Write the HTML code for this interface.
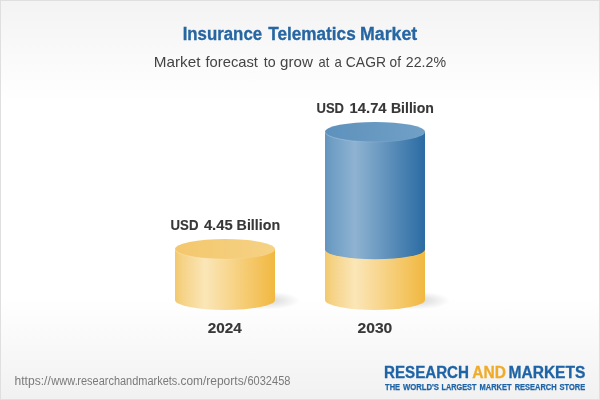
<!DOCTYPE html>
<html>
<head>
<meta charset="utf-8">
<title>Insurance Telematics Market</title>
<style>
  html, body { margin: 0; padding: 0; }
  body { width: 600px; height: 400px; overflow: hidden; background: #ffffff; font-family: "Liberation Sans", sans-serif; }
  svg { display: block; will-change: transform; }
  text { font-family: "Liberation Sans", sans-serif; }
</style>
</head>
<body>
<svg width="600" height="400" viewBox="0 0 600 400">
  <defs>
    <linearGradient id="bgTop" x1="0" y1="0" x2="0" y2="1">
      <stop offset="0" stop-color="#f3f3f3"/>
      <stop offset="1" stop-color="#ffffff"/>
    </linearGradient>
    <linearGradient id="bgBot" x1="0" y1="0" x2="0" y2="1">
      <stop offset="0" stop-color="#ffffff"/>
      <stop offset="1" stop-color="#f1f1f1"/>
    </linearGradient>
    <linearGradient id="yBody" x1="0" y1="0" x2="1" y2="0">
      <stop offset="0" stop-color="#f3c86c"/>
      <stop offset="0.06" stop-color="#f5d183"/>
      <stop offset="0.3" stop-color="#fbe6b8"/>
      <stop offset="1" stop-color="#f1b840"/>
    </linearGradient>
    <linearGradient id="yTop" x1="0" y1="0" x2="1" y2="0">
      <stop offset="0" stop-color="#f3c76c"/>
      <stop offset="1" stop-color="#f6d286"/>
    </linearGradient>
    <linearGradient id="bBody" x1="0" y1="0" x2="1" y2="0">
      <stop offset="0" stop-color="#6294bf"/>
      <stop offset="0.06" stop-color="#6e9dc4"/>
      <stop offset="0.3" stop-color="#8fb3d1"/>
      <stop offset="1" stop-color="#2a6ba3"/>
    </linearGradient>
    <linearGradient id="bTop" x1="0" y1="0" x2="1" y2="0">
      <stop offset="0" stop-color="#5d91bc"/>
      <stop offset="1" stop-color="#71a0c6"/>
    </linearGradient>
    <linearGradient id="rim" x1="0" y1="0" x2="1" y2="0">
      <stop offset="0" stop-color="#ffffff" stop-opacity="0.28"/>
      <stop offset="0.6" stop-color="#ffffff" stop-opacity="0.08"/>
      <stop offset="1" stop-color="#ffffff" stop-opacity="0"/>
    </linearGradient>
    <radialGradient id="shadow" cx="0.5" cy="0.5" r="0.5">
      <stop offset="0" stop-color="#000000" stop-opacity="0.16"/>
      <stop offset="1" stop-color="#000000" stop-opacity="0"/>
    </radialGradient>
  </defs>

  <!-- background -->
  <rect x="0" y="0" width="600" height="400" fill="#ffffff"/>
  <rect x="0" y="0" width="600" height="102" fill="url(#bgTop)"/>
  <rect x="0" y="298" width="600" height="102" fill="url(#bgBot)"/>
  <rect x="0.5" y="0.5" width="599" height="399" fill="none" stroke="#dfdfdf" stroke-width="1"/>

  <!-- title -->
  <text x="182.65" y="40" font-size="17.5" font-weight="bold" fill="#2666a2" stroke="#2666a2" stroke-width="0.3" textLength="79.47" lengthAdjust="spacingAndGlyphs">Insurance</text>
  <text x="268.20" y="40" font-size="17.5" font-weight="bold" fill="#2666a2" stroke="#2666a2" stroke-width="0.3" textLength="87.50" lengthAdjust="spacingAndGlyphs">Telematics</text>
  <text x="359.99" y="40" font-size="17.5" font-weight="bold" fill="#2666a2" stroke="#2666a2" stroke-width="0.3" textLength="57.20" lengthAdjust="spacingAndGlyphs">Market</text>
  <text x="153.81" y="67.3" font-size="15" fill="#444444" textLength="46.64" lengthAdjust="spacingAndGlyphs">Market</text>
  <text x="205.50" y="67.3" font-size="15" fill="#444444" textLength="52.45" lengthAdjust="spacingAndGlyphs">forecast</text>
  <text x="263.70" y="67.3" font-size="15" fill="#444444" textLength="11.88" lengthAdjust="spacingAndGlyphs">to</text>
  <text x="280.03" y="67.3" font-size="15" fill="#444444" textLength="32.79" lengthAdjust="spacingAndGlyphs">grow</text>
  <text x="318.60" y="67.3" font-size="15" fill="#444444" textLength="10.76" lengthAdjust="spacingAndGlyphs">at</text>
  <text x="334.39" y="67.3" font-size="15" fill="#444444" textLength="7.33" lengthAdjust="spacingAndGlyphs">a</text>
  <text x="345.85" y="67.3" font-size="15" fill="#444444" textLength="40.13" lengthAdjust="spacingAndGlyphs">CAGR</text>
  <text x="389.57" y="67.3" font-size="15" fill="#444444" textLength="11.38" lengthAdjust="spacingAndGlyphs">of</text>
  <text x="405.84" y="67.3" font-size="15" fill="#444444" textLength="40.19" lengthAdjust="spacingAndGlyphs">22.2%</text>

  <!-- shadows -->
  <ellipse cx="268" cy="300.5" rx="32" ry="9" fill="url(#shadow)"/>
  <ellipse cx="418" cy="300.5" rx="32" ry="9" fill="url(#shadow)"/>

  <!-- left cylinder (2024) -->
  <path d="M175,249.1 L175,300 A50,10 0 0 0 275,300 L275,249.1 Z" fill="url(#yBody)"/>
  <ellipse cx="225" cy="249.1" rx="50" ry="10" fill="url(#yTop)"/>

  <path d="M175,249.1 A50,10 0 0 0 275,249.1" fill="none" stroke="url(#rim)" stroke-width="1"/>

  <!-- right cylinder (2030) -->
  <path d="M325,249.3 L325,300 A50,10 0 0 0 425,300 L425,249.3 Z" fill="url(#yBody)"/>
  <path d="M325,131.9 L325,249.3 A50,10 0 0 0 425,249.3 L425,131.9 Z" fill="url(#bBody)"/>
  <ellipse cx="375" cy="131.9" rx="50" ry="10" fill="url(#bTop)"/>

  <path d="M325,131.9 A50,10 0 0 0 425,131.9" fill="none" stroke="url(#rim)" stroke-width="1"/>

  <!-- value labels -->
  <text x="170.58" y="229.7" font-size="15.5" font-weight="bold" fill="#383838" stroke="#383838" stroke-width="0.15" textLength="27.88" lengthAdjust="spacingAndGlyphs">USD</text>
  <text x="203.90" y="229.7" font-size="15.5" font-weight="bold" fill="#383838" stroke="#383838" stroke-width="0.15" textLength="28.77" lengthAdjust="spacingAndGlyphs">4.45</text>
  <text x="236.61" y="229.7" font-size="15.5" font-weight="bold" fill="#383838" stroke="#383838" stroke-width="0.15" textLength="43.58" lengthAdjust="spacingAndGlyphs">Billion</text>
  <text x="316.49" y="112.6" font-size="15.5" font-weight="bold" fill="#383838" stroke="#383838" stroke-width="0.15" textLength="27.46" lengthAdjust="spacingAndGlyphs">USD</text>
  <text x="349.58" y="112.6" font-size="15.5" font-weight="bold" fill="#383838" stroke="#383838" stroke-width="0.15" textLength="37.03" lengthAdjust="spacingAndGlyphs">14.74</text>
  <text x="390.92" y="112.6" font-size="15.5" font-weight="bold" fill="#383838" stroke="#383838" stroke-width="0.15" textLength="43.06" lengthAdjust="spacingAndGlyphs">Billion</text>

  <!-- year labels -->
  <text x="207.82" y="332.9" font-size="15.5" font-weight="bold" fill="#383838" stroke="#383838" stroke-width="0.15" textLength="34.08" lengthAdjust="spacingAndGlyphs">2024</text>
  <text x="357.51" y="332.9" font-size="15.5" font-weight="bold" fill="#383838" stroke="#383838" stroke-width="0.15" textLength="34.82" lengthAdjust="spacingAndGlyphs">2030</text>

  <!-- url -->
  <text x="14.49" y="385" font-size="12" fill="#7a7a7a" textLength="36.29" lengthAdjust="spacingAndGlyphs">https://</text>
  <text x="51.35" y="385" font-size="12" fill="#7a7a7a" textLength="26.35" lengthAdjust="spacingAndGlyphs">www.</text>
  <text x="77.31" y="385" font-size="12" fill="#7a7a7a" textLength="100.05" lengthAdjust="spacingAndGlyphs">researchandmarkets</text>
  <text x="177.26" y="385" font-size="12" fill="#7a7a7a" textLength="29.02" lengthAdjust="spacingAndGlyphs">.com/</text>
  <text x="206.25" y="385" font-size="12" fill="#7a7a7a" textLength="40.73" lengthAdjust="spacingAndGlyphs">reports/</text>
  <text x="247.45" y="385" font-size="12" fill="#7a7a7a" textLength="42.99" lengthAdjust="spacingAndGlyphs">6032458</text>

  <!-- logo -->
  <text x="384.05" y="377.7" font-size="16" font-weight="bold" fill="#1e63a6" stroke="#1e63a6" stroke-width="0.3" textLength="84.94" lengthAdjust="spacingAndGlyphs">RESEARCH</text>
  <text x="472.36" y="377.7" font-size="16" font-weight="bold" fill="#f0ab2a" stroke="#f0ab2a" stroke-width="0.3" textLength="33.58" lengthAdjust="spacingAndGlyphs">AND</text>
  <text x="508.43" y="377.7" font-size="16" font-weight="bold" fill="#1e63a6" stroke="#1e63a6" stroke-width="0.3" textLength="76.98" lengthAdjust="spacingAndGlyphs">MARKETS</text>
  <text x="385.06" y="389.9" font-size="8.8" font-weight="bold" fill="#1e63a6" stroke="#1e63a6" stroke-width="0.25" textLength="15.02" lengthAdjust="spacingAndGlyphs">THE</text>
  <text x="402.90" y="389.9" font-size="8.8" font-weight="bold" fill="#1e63a6" stroke="#1e63a6" stroke-width="0.25" textLength="36.08" lengthAdjust="spacingAndGlyphs">WORLD'S</text>
  <text x="441.54" y="389.9" font-size="8.8" font-weight="bold" fill="#1e63a6" stroke="#1e63a6" stroke-width="0.25" textLength="34.82" lengthAdjust="spacingAndGlyphs">LARGEST</text>
  <text x="479.53" y="389.9" font-size="8.8" font-weight="bold" fill="#1e63a6" stroke="#1e63a6" stroke-width="0.25" textLength="32.03" lengthAdjust="spacingAndGlyphs">MARKET</text>
  <text x="514.73" y="389.9" font-size="8.8" font-weight="bold" fill="#1e63a6" stroke="#1e63a6" stroke-width="0.25" textLength="41.84" lengthAdjust="spacingAndGlyphs">RESEARCH</text>
  <text x="559.59" y="389.9" font-size="8.8" font-weight="bold" fill="#1e63a6" stroke="#1e63a6" stroke-width="0.25" textLength="25.58" lengthAdjust="spacingAndGlyphs">STORE</text>
</svg>
</body>
</html>
